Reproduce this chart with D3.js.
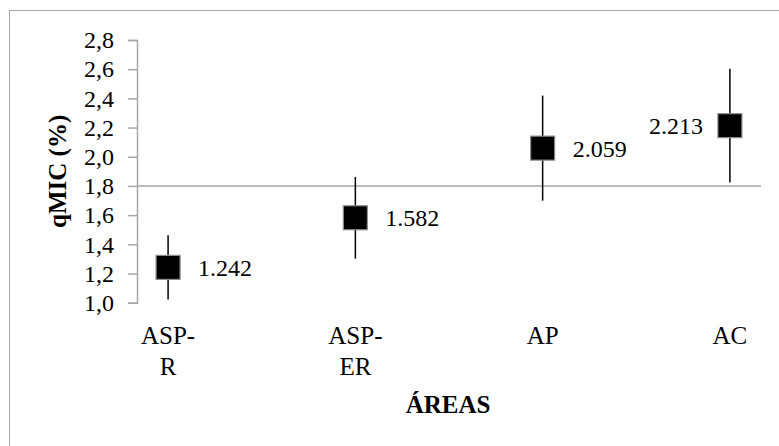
<!DOCTYPE html>
<html>
<head>
<meta charset="utf-8">
<script src="https://cdn.jsdelivr.net/npm/d3@7/dist/d3.min.js"></script>
<style>
  html, body { margin: 0; padding: 0; background: #fff; }
  svg { display: block; }
  text { font-family: "Liberation Serif", "Times New Roman", serif; fill: #000; }
</style>
</head>
<body>
<svg id="chart" width="779" height="446"></svg>
<script>
// ---- data ----
const categories = ["ASP-R", "ASP-ER", "AP", "AC"];
const categoryLines = [["ASP-", "R"], ["ASP-", "ER"], ["AP"], ["AC"]];
const values = [1.242, 1.582, 2.059, 2.213];
const valueLabels = ["1.242", "1.582", "2.059", "2.213"];
const errors = [0.22, 0.28, 0.36, 0.39];
const yTicks = [1.0, 1.2, 1.4, 1.6, 1.8, 2.0, 2.2, 2.4, 2.6, 2.8];
const yTickLabels = ["1,0", "1,2", "1,4", "1,6", "1,8", "2,0", "2,2", "2,4", "2,6", "2,8"];
const referenceLine = 1.8;
const xTitle = "ÁREAS";
const yTitle = "qMIC (%)";

// ---- layout ----
const svg = d3.select("#chart");
const plotLeft = 137, plotRight = 761, plotTop = 40, plotBottom = 302.7;

svg.append("rect")
  .attr("x", 9.5).attr("y", 10.5)
  .attr("width", 800).attr("height", 500)
  .attr("fill", "#fff").attr("stroke", "#a6a6a6").attr("stroke-width", 1);

const x = d3.scalePoint().domain(categories).range([plotLeft, plotRight]).padding(0.166);
const y = d3.scaleLinear().domain([1.0, 2.8]).range([plotBottom, plotTop]);

// y axis
const yAxis = d3.axisLeft(y)
  .tickValues(yTicks)
  .tickFormat((d, i) => yTickLabels[i])
  .tickSize(9)
  .tickSizeOuter(9)
  .tickPadding(14);
const gy = svg.append("g").attr("transform", `translate(${plotLeft},0)`).call(yAxis);
gy.attr("font-family", null).attr("font-size", null);
gy.select(".domain").attr("stroke", "#a6a6a6").attr("stroke-width", 1.5);
gy.selectAll(".tick line").attr("stroke", "#a6a6a6").attr("stroke-width", 1.5);
gy.selectAll(".tick text")
  .style("font-family", "'Liberation Serif', serif")
  .style("font-size", "24px")
  .attr("fill", "#000");

// reference line
svg.append("line")
  .attr("x1", plotLeft).attr("x2", plotRight)
  .attr("y1", y(referenceLine)).attr("y2", y(referenceLine))
  .attr("stroke", "#a6a6a6").attr("stroke-width", 1.5);

// x category labels
const gx = svg.append("g");
categories.forEach((c, i) => {
  const t = gx.append("text")
    .attr("x", x(c)).attr("y", 344)
    .attr("text-anchor", "middle")
    .style("font-size", "25px");
  categoryLines[i].forEach((ln, j) => {
    t.append("tspan").attr("x", x(c)).attr("dy", j === 0 ? 0 : 31).text(ln);
  });
});

// error bars
svg.append("g").selectAll("line")
  .data(values)
  .join("line")
  .attr("x1", (d, i) => x(categories[i]))
  .attr("x2", (d, i) => x(categories[i]))
  .attr("y1", (d, i) => y(d + errors[i]))
  .attr("y2", (d, i) => y(d - errors[i]))
  .attr("stroke", "#000").attr("stroke-width", 1.5);

// markers
const sz = 24;
svg.append("g").selectAll("rect")
  .data(values)
  .join("rect")
  .attr("x", (d, i) => x(categories[i]) - sz / 2)
  .attr("y", d => y(d) - sz / 2)
  .attr("width", sz).attr("height", sz)
  .attr("fill", "#000").attr("stroke", "#8c8c8c").attr("stroke-width", 1.2);

// value labels
svg.append("g").selectAll("text")
  .data(values)
  .join("text")
  .attr("x", (d, i) => i === categories.length - 1 ? x(categories[i]) - sz / 2 - 15 : x(categories[i]) + sz / 2 + 18)
  .attr("y", d => y(d))
  .attr("dy", "0.35em")
  .attr("text-anchor", (d, i) => i === categories.length - 1 ? "end" : "start")
  .style("font-size", "24px")
  .text((d, i) => valueLabels[i]);

// axis titles
svg.append("text")
  .attr("x", (plotLeft + plotRight) / 2 - 1).attr("y", 413)
  .attr("text-anchor", "middle")
  .style("font-size", "25px").style("font-weight", "bold")
  .text(xTitle);

svg.append("text")
  .attr("transform", `translate(66,${(plotTop + plotBottom) / 2}) rotate(-90)`)
  .attr("text-anchor", "middle")
  .style("font-size", "25px").style("font-weight", "bold")
  .text(yTitle);
</script>
</body>
</html>
